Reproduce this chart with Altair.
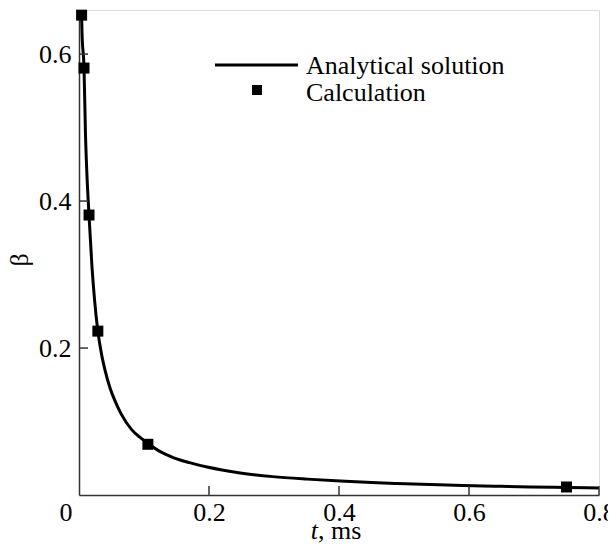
import altair as alt
import pandas as pd

# Analytical solution curve
curve_t = [0.004, 0.0046, 0.0077, 0.010, 0.0125, 0.0154, 0.020, 0.024, 0.029, 0.035,
           0.040, 0.048, 0.0554, 0.065, 0.081, 0.093, 0.105, 0.125, 0.145, 0.170,
           0.197, 0.220, 0.248, 0.298, 0.351, 0.402, 0.450, 0.489, 0.540, 0.591,
           0.640, 0.694, 0.750, 0.800]
curve_b = [0.653, 0.630, 0.581, 0.490, 0.430, 0.381, 0.310, 0.265, 0.223, 0.190,
           0.170, 0.145, 0.128, 0.110, 0.089, 0.079, 0.071, 0.059, 0.051, 0.044,
           0.038, 0.034, 0.030, 0.025, 0.0216, 0.019, 0.017, 0.0157, 0.0142, 0.013,
           0.012, 0.011, 0.0103, 0.0095]

# Calculation points
calc_t = [0.004, 0.0077, 0.0154, 0.029, 0.106, 0.75]
calc_b = [0.653, 0.581, 0.381, 0.223, 0.069, 0.0109]

x_ticks = [0.2, 0.4, 0.6, 0.8]
y_ticks = [0.2, 0.4, 0.6]

legend_line_label = "Analytical solution"
legend_point_label = "Calculation"

FONT = "Liberation Serif"
FS = 26
W, H = 520, 485
AX = "#333333"

curve = pd.DataFrame({"t": curve_t, "b": curve_b})
calc = pd.DataFrame({"t": calc_t, "b": calc_b})
xt = pd.DataFrame({"t": x_ticks})
yt = pd.DataFrame({"b": y_ticks})
one = pd.DataFrame({"k": [0]})

xscale = alt.Scale(domain=[0, 0.8], nice=False, zero=False)
yscale = alt.Scale(domain=[0, 0.66], nice=False, zero=False)

xaxis = alt.Axis(values=x_ticks, format=".1f", ticks=False, grid=False, title=None,
                 labelFont=FONT, labelFontSize=FS, labelColor="black", labelPadding=4,
                 domainColor=AX, domainWidth=1.5, labelFlush=False)
yaxis = alt.Axis(values=y_ticks, format=".1f", ticks=False, grid=False, title=None,
                 labelFont=FONT, labelFontSize=FS, labelColor="black", labelPadding=8,
                 domainColor=AX, domainWidth=1.5)

line = alt.Chart(curve).mark_line(color="black", strokeWidth=3, interpolate="monotone", clip=True).encode(
    x=alt.X("t:Q", scale=xscale, axis=xaxis),
    y=alt.Y("b:Q", scale=yscale, axis=yaxis),
)

points = alt.Chart(calc).mark_square(color="black", opacity=1, size=121).encode(
    x=alt.X("t:Q", scale=xscale),
    y=alt.Y("b:Q", scale=yscale),
)

xtick_marks = alt.Chart(xt).mark_rule(color=AX, strokeWidth=1.5).encode(
    x=alt.X("t:Q", scale=xscale), y=alt.value(H), y2=alt.value(H - 9)
)
ytick_marks = alt.Chart(yt).mark_rule(color=AX, strokeWidth=1.5).encode(
    y=alt.Y("b:Q", scale=yscale), x=alt.value(0), x2=alt.value(9)
)

zero_label = alt.Chart(one).mark_text(text="0", font=FONT, fontSize=FS, baseline="top",
                                      align="center", color="black").encode(
    x=alt.value(-13), y=alt.value(H + 5)
)

xtitle_t = alt.Chart(one).mark_text(text="t", font=FONT, fontSize=FS, fontStyle="italic",
                                    align="right", baseline="alphabetic", color="black").encode(
    x=alt.value(239), y=alt.value(529)
)
xtitle_rest = alt.Chart(one).mark_text(text=", ms", font=FONT, fontSize=FS,
                                       align="left", baseline="alphabetic", color="black").encode(
    x=alt.value(239), y=alt.value(529)
)
ytitle = alt.Chart(one).mark_text(text="β", font=FONT, fontSize=FS, angle=270,
                                  align="center", baseline="alphabetic", color="black").encode(
    x=alt.value(-51), y=alt.value(250)
)

leg_line = alt.Chart(one).mark_rule(color="black", strokeWidth=3).encode(
    x=alt.value(136), x2=alt.value(219), y=alt.value(55)
)
leg_sq = alt.Chart(one).mark_square(color="black", opacity=1, size=100).encode(
    x=alt.value(178), y=alt.value(80)
)
leg_t1 = alt.Chart(one).mark_text(text=legend_line_label, font=FONT, fontSize=FS,
                                  align="left", baseline="middle", color="black").encode(
    x=alt.value(227), y=alt.value(56)
)
leg_t2 = alt.Chart(one).mark_text(text=legend_point_label, font=FONT, fontSize=FS,
                                  align="left", baseline="middle", color="black").encode(
    x=alt.value(227), y=alt.value(83)
)

chart = alt.layer(
    line, points, xtick_marks, ytick_marks, zero_label,
    xtitle_t, xtitle_rest, ytitle, leg_line, leg_sq, leg_t1, leg_t2
).properties(
    width=W, height=H,
    autosize=alt.AutoSizeParams(type="none"),
    padding={"left": 71, "top": 2, "right": 9, "bottom": 51},
).configure_view(stroke=None).configure(background="white")

chart.save("out.html", embed_options={"renderer": "svg", "actions": False})
